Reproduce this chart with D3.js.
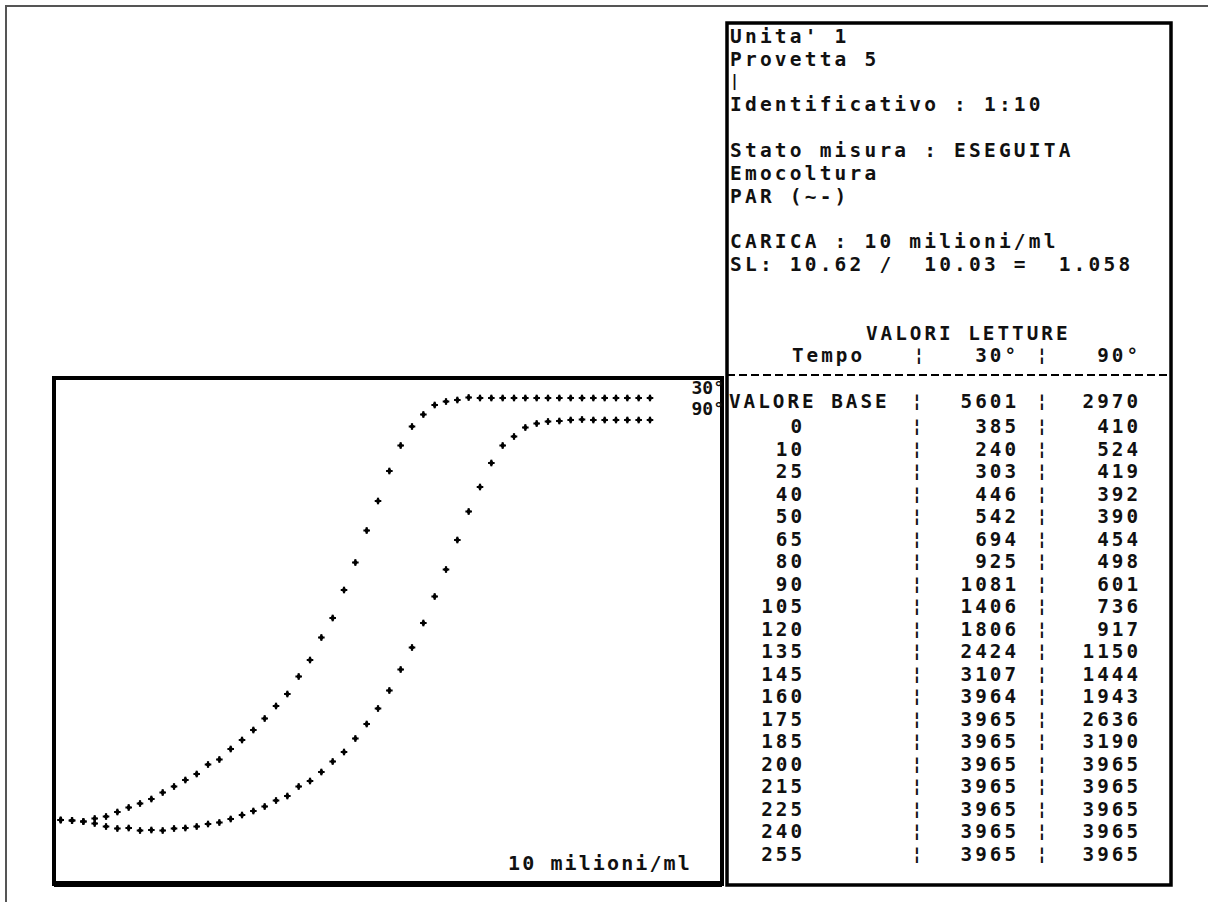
<!DOCTYPE html>
<html>
<head>
<meta charset="utf-8">
<script src="https://cdn.jsdelivr.net/npm/d3@7"></script>
<style>
  body { margin: 0; background: #fff; }
  text { font-family: "DejaVu Sans Mono", monospace; fill: #111; white-space: pre; font-weight: bold; }
</style>
</head>
<body>
<svg id="chart"></svg>
<script>
const width = 1208;
const height = 902;

// curve sampled every 5 minutes
const tempiCurva = [0, 5, 10, 15, 20, 25, 30, 35, 40, 45, 50, 55, 60, 65, 70, 75, 80, 85, 90, 95,
  100, 105, 110, 115, 120, 125, 130, 135, 140, 145, 150, 155, 160, 165, 170, 175, 180, 185, 190, 195,
  200, 205, 210, 215, 220, 225, 230, 235, 240, 245, 250, 255, 260];

// relative reading (% of plot height)
const curva30 = [12.0, 11.9, 11.7, 12.3, 12.7, 13.6, 14.5, 15.3, 16.2, 17.5, 18.7, 20.0, 21.2, 23.1,
  24.1, 26.2, 28.0, 30.0, 32.3, 34.8, 37.2, 40.7, 44.0, 48.5, 52.4, 58.0, 63.5, 69.9, 75.8, 81.8,
  86.9, 90.7, 93.1, 95.0, 95.7, 96.0, 96.5, 96.4, 96.4, 96.4, 96.4, 96.4, 96.4, 96.4, 96.4, 96.4,
  96.4, 96.4, 96.4, 96.4, 96.4, 96.4, 96.4];
const curva90 = [12.0, 11.9, 11.7, 11.3, 10.7, 10.3, 10.4, 9.9, 10.0, 9.9, 10.3, 10.4, 10.7, 11.2,
  11.5, 12.2, 13.0, 13.8, 14.7, 15.9, 16.8, 18.7, 19.8, 21.6, 23.7, 25.6, 28.3, 31.2, 34.3, 37.9,
  42.1, 46.5, 51.4, 56.7, 62.1, 68.0, 73.7, 78.6, 83.4, 86.9, 88.7, 90.5, 91.3, 91.7, 91.8, 92.0,
  92.1, 92.0, 92.0, 92.0, 92.0, 92.0, 92.0];

const headerLines = [
  "Unita' 1",
  "Provetta 5",
  "|",
  "Identificativo : 1:10",
  "",
  "Stato misura : ESEGUITA",
  "Emocoltura",
  "PAR (~-)",
  "",
  "CARICA : 10 milioni/ml",
  "SL: 10.62 /  10.03 =  1.058"
];

const valoreBase = ["VALORE BASE", 5601, 2970];
const tabTempi = [0, 10, 25, 40, 50, 65, 80, 90, 105, 120, 135, 145, 160, 175, 185, 200, 215, 225, 240, 255];
const tab30 = [385, 240, 303, 446, 542, 694, 925, 1081, 1406, 1806, 2424, 3107, 3964, 3965, 3965, 3965, 3965, 3965, 3965, 3965];
const tab90 = [410, 524, 419, 392, 390, 454, 498, 601, 736, 917, 1150, 1444, 1943, 2636, 3190, 3965, 3965, 3965, 3965, 3965];

const svg = d3.select('#chart')
              .attr('width', width)
              .attr('height', height);

svg.append('rect').attr('width', width).attr('height', height).attr('fill', '#fff');

// outer frame of the scan
svg.append('path')
   .attr('d', `M6,${height} V6 H${width}`)
   .attr('fill', 'none')
   .attr('stroke', '#555')
   .attr('stroke-width', 2);

// ---- plot box
const plot = { left: 54, top: 378, right: 722, bottom: 884 };

svg.append('rect')
   .attr('x', plot.left).attr('y', plot.top)
   .attr('width', plot.right - plot.left).attr('height', plot.bottom - plot.top)
   .attr('fill', 'none').attr('stroke', '#000').attr('stroke-width', 4);
svg.append('line')
   .attr('x1', plot.left).attr('x2', plot.right)
   .attr('y1', plot.bottom).attr('y2', plot.bottom)
   .attr('stroke', '#000').attr('stroke-width', 6);

const x = d3.scaleLinear().domain([0, 260]).range([60.7, 650]);
const y = d3.scaleLinear().domain([0, 100]).range([880, 380]);

const cross = d3.symbol().type(d3.symbolCross).size(24);
const diamond = d3.symbol().type(d3.symbolDiamond).size(14);

[curva30, curva90].forEach(serie => {
  const g = svg.append('g')
               .selectAll('g')
               .data(serie)
               .enter()
               .append('g')
               .attr('transform', (d, i) => `translate(${x(tempiCurva[i])},${y(d)})`);
  g.append('path').attr('d', cross).attr('fill', '#000');
  g.append('path').attr('d', diamond).attr('fill', '#000');
  g.append('circle').attr('r', 2).attr('fill', '#000');
});

svg.append('text').attr('x', 724).attr('y', 394).attr('text-anchor', 'end')
   .attr('font-size', 18).text('30°');
svg.append('text').attr('x', 724).attr('y', 415).attr('text-anchor', 'end')
   .attr('font-size', 18).text('90°');

svg.append('text').attr('x', 508).attr('y', 870)
   .attr('font-size', 20).attr('letter-spacing', 2.1)
   .text('10 milioni/ml');

// ---- right panel
const panel = { left: 727, top: 23, right: 1171, bottom: 885 };

svg.append('rect')
   .attr('x', panel.left).attr('y', panel.top)
   .attr('width', panel.right - panel.left).attr('height', panel.bottom - panel.top)
   .attr('fill', 'none').attr('stroke', '#000').attr('stroke-width', 3.5);

const lineH = 22.8;
svg.append('g')
   .selectAll('text')
   .data(headerLines)
   .enter()
   .append('text')
   .attr('x', 730)
   .attr('y', (d, i) => 43 + i * lineH)
   .attr('dy', d => d === '|' ? -3 : 0)
   .attr('font-size', d => d === '|' ? 15 : 19.5)
   .attr('letter-spacing', 3.2)
   .text(d => d);

const hdr = { size: 19.3, ls: 3.0 };
svg.append('text').attr('x', 866).attr('y', 339.5)
   .attr('font-size', hdr.size).attr('letter-spacing', hdr.ls).text('VALORI LETTURE');
svg.append('text').attr('x', 792).attr('y', 362)
   .attr('font-size', hdr.size).attr('letter-spacing', hdr.ls).text('Tempo');
svg.append('text').attr('x', 1019).attr('y', 362).attr('text-anchor', 'end')
   .attr('font-size', hdr.size).attr('letter-spacing', hdr.ls).text('30°');
svg.append('text').attr('x', 1141).attr('y', 362).attr('text-anchor', 'end')
   .attr('font-size', hdr.size).attr('letter-spacing', hdr.ls).text('90°');
[919, 1042].forEach(sx => {
  svg.append('text').attr('x', sx).attr('y', 361).attr('text-anchor', 'middle')
     .attr('font-size', 18).text('¦');
});

svg.append('line')
   .attr('x1', panel.left).attr('x2', panel.right)
   .attr('y1', 375).attr('y2', 375)
   .attr('stroke', '#000').attr('stroke-width', 2)
   .attr('stroke-dasharray', '8,4');

// table rows
const rows = [valoreBase].concat(tabTempi.map((t, i) => [t, tab30[i], tab90[i]]));
const rowY = i => i === 0 ? 408 : 433 + (i - 1) * 22.5;

const row = svg.append('g')
               .selectAll('g')
               .data(rows)
               .enter()
               .append('g')
               .attr('font-size', hdr.size)
               .attr('letter-spacing', hdr.ls);

row.append('text')
   .attr('x', (d, i) => i === 0 ? 729 : 805)
   .attr('y', (d, i) => rowY(i))
   .attr('text-anchor', (d, i) => i === 0 ? 'start' : 'end')
   .text(d => d[0]);
row.append('text')
   .attr('x', 1019).attr('y', (d, i) => rowY(i))
   .attr('text-anchor', 'end')
   .text(d => d[1]);
row.append('text')
   .attr('x', 1141).attr('y', (d, i) => rowY(i))
   .attr('text-anchor', 'end')
   .text(d => d[2]);
[917, 1042].forEach(sx => {
  row.append('text')
     .attr('x', sx).attr('y', (d, i) => rowY(i) - 1)
     .attr('text-anchor', 'middle')
     .attr('font-size', 18)
     .attr('letter-spacing', 0)
     .text('¦');
});
</script>
</body>
</html>
